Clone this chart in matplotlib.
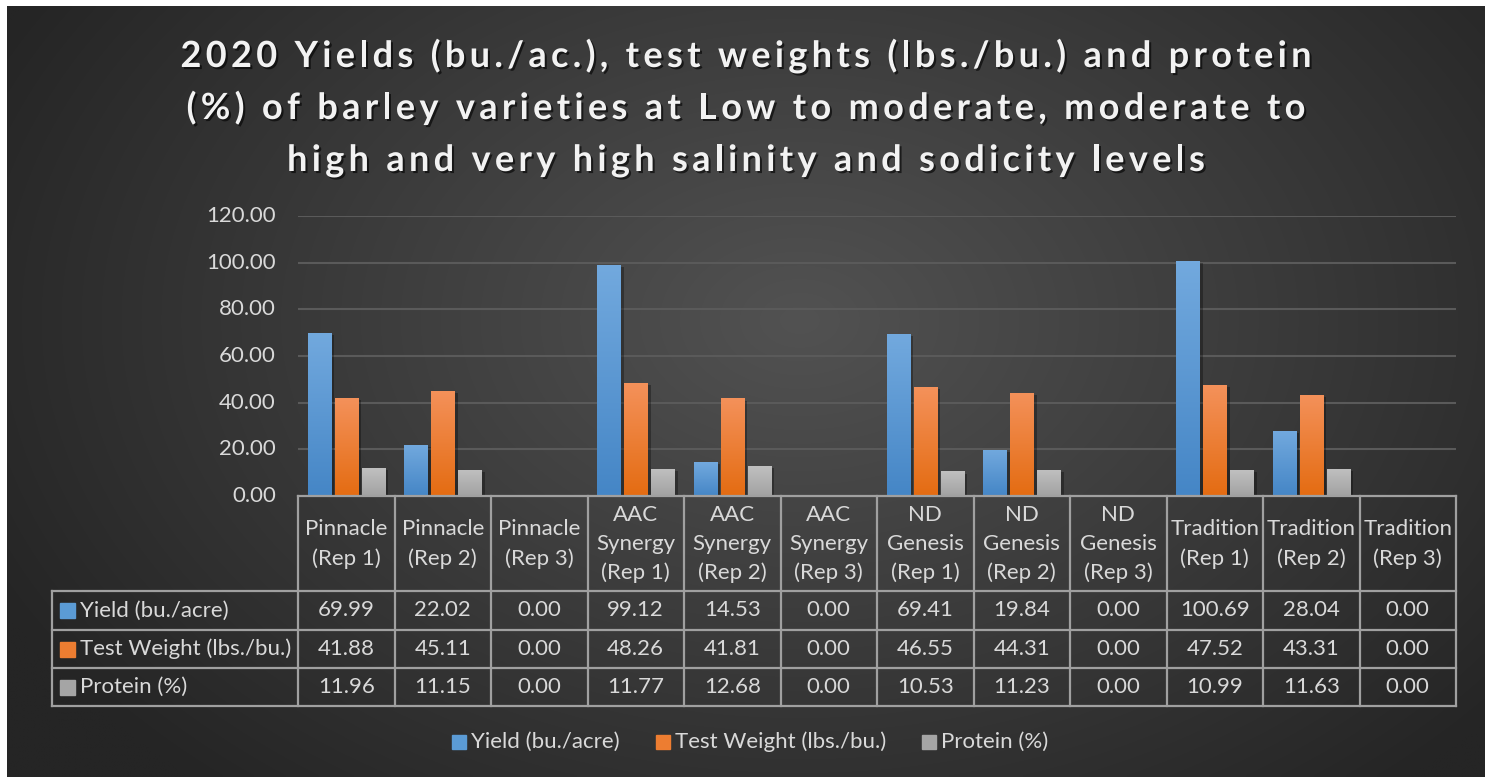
import numpy as np
import matplotlib
matplotlib.use('Agg')
import matplotlib.pyplot as plt
import matplotlib.patheffects as pe
from matplotlib.patches import Rectangle
from matplotlib.font_manager import FontProperties, findfont, get_font

# Data
categories = ['Pinnacle\n(Rep 1)', 'Pinnacle\n(Rep 2)', 'Pinnacle\n(Rep 3)',
              'AAC\nSynergy\n(Rep 1)', 'AAC\nSynergy\n(Rep 2)', 'AAC\nSynergy\n(Rep 3)',
              'ND\nGenesis\n(Rep 1)', 'ND\nGenesis\n(Rep 2)', 'ND\nGenesis\n(Rep 3)',
              'Tradition\n(Rep 1)', 'Tradition\n(Rep 2)', 'Tradition\n(Rep 3)']
yield_bu = [69.99, 22.02, 0.00, 99.12, 14.53, 0.00, 69.41, 19.84, 0.00, 100.69, 28.04, 0.00]
test_weight = [41.88, 45.11, 0.00, 48.26, 41.81, 0.00, 46.55, 44.31, 0.00, 47.52, 43.31, 0.00]
protein = [11.96, 11.15, 0.00, 11.77, 12.68, 0.00, 10.53, 11.23, 0.00, 10.99, 11.63, 0.00]
series_names = ['Yield (bu./acre)', 'Test Weight (lbs./bu.)', 'Protein (%)']
y_ticks = [0, 20, 40, 60, 80, 100, 120]
title_lines = ['2020 Yields (bu./ac.), test weights (lbs./bu.) and protein',
               '(%) of barley varieties at Low to moderate, moderate to',
               'high and very high salinity and sodicity levels']

# (top colour, bottom colour) for each series gradient
grad_colors = [('#72A9DE', '#4586C6'), ('#F4915A', '#E46C12'), ('#C0C0C0', '#A2A2A2')]
flat_colors = ['#5B9BD5', '#ED7D31', '#A5A5A5']

W, H = 1492, 777
FONT = 'Lato'
TXT = '#D9D9D9'
LINE = '#A0A0A0'
FS = 16

fig = plt.figure(figsize=(W / 100, H / 100), dpi=100, facecolor='white')

# background: radial gradient
ax_bg = fig.add_axes([0, 0, 1, 1], zorder=-5)
ax_bg.set_xlim(0, W)
ax_bg.set_ylim(H, 0)
ax_bg.axis('off')
gx, gy = np.meshgrid(np.linspace(7, 1485, 400), np.linspace(6, 777, 220))
r = np.sqrt(((gx - 800) / 900) ** 2 + ((gy - 320) / 620) ** 2)
r = np.clip(r, 0, 1)
c0 = np.array([0x52, 0x52, 0x52]) / 255
c1 = np.array([0x25, 0x25, 0x25]) / 255
img = c0[None, None, :] * (1 - r[..., None]) + c1[None, None, :] * r[..., None]
ax_bg.imshow(img, extent=(7, 1485, 777, 6), aspect='auto', interpolation='bilinear')

# plot area geometry (pixels)
px_left, px_right = 298, 1456
px_top, px_zero = 216, 496
col_w = (px_right - px_left) / len(categories)

ax = fig.add_axes([px_left / W, 1 - px_zero / H, (px_right - px_left) / W, (px_zero - px_top) / H])
ax.set_facecolor('none')
for s in ax.spines.values():
    s.set_visible(False)
ax.set_xticks([])
ax.set_yticks(y_ticks[1:])
ax.yaxis.grid(True, color='#5A5A5A', linewidth=1.5)
ax.set_axisbelow(True)
ax.tick_params(axis='y', length=0, labelleft=False)

x = np.arange(len(categories))
bw, off = 0.24, 0.28
grad = np.linspace(0, 1, 64)[:, None]
for k, vals in enumerate([yield_bu, test_weight, protein]):
    bars = ax.bar(x + (k - 1) * off, vals, bw, color=flat_colors[k], zorder=3,
                  path_effects=[pe.SimplePatchShadow(offset=(2.5, -1.5), alpha=0.3, shadow_rgbFace='black'),
                                pe.Normal()])
    top = np.array(matplotlib.colors.to_rgb(grad_colors[k][0]))
    bot = np.array(matplotlib.colors.to_rgb(grad_colors[k][1]))
    gimg = top[None, None, :] * (1 - grad[..., None]) + bot[None, None, :] * grad[..., None]
    for b in bars:
        if b.get_height() <= 0:
            continue
        im = ax.imshow(gimg, extent=(b.get_x(), b.get_x() + b.get_width(), 0, b.get_height()),
                       aspect='auto', zorder=4, interpolation='bilinear')
        im.set_clip_path(b)
ax.set_xlim(-0.5, len(categories) - 0.5)
ax.set_ylim(0, 120)

# overlay in pixel coords for labels, table, legend, title
ov = fig.add_axes([0, 0, 1, 1], zorder=5)
ov.set_facecolor('none')
ov.set_xlim(0, W)
ov.set_ylim(H, 0)
ov.axis('off')

# y tick labels
for t in y_ticks:
    yp = px_zero - (px_zero - px_top) * t / 120
    ov.text(276, yp, f'{t:.2f}', ha='right', va='center', fontsize=FS, color=TXT, family=FONT)

# data table
tbl_left = 52
row_edges = [591, 630, 668, 706]
lw = 1.6
ov.plot([px_left, px_right], [px_zero, px_zero], color=LINE, lw=lw, solid_capstyle='projecting')
for yv in row_edges:
    ov.plot([tbl_left, px_right], [yv, yv], color=LINE, lw=lw, solid_capstyle='projecting')
ov.plot([tbl_left, tbl_left], [row_edges[0], row_edges[-1]], color=LINE, lw=lw)
for i in range(len(categories) + 1):
    xv = px_left + i * col_w
    ov.plot([xv, xv], [px_zero, row_edges[-1]], color=LINE, lw=lw)

for i, cat in enumerate(categories):
    cx = px_left + (i + 0.5) * col_w
    ov.text(cx, 544, cat, ha='center', va='center',
            fontsize=FS, color=TXT, family=FONT, linespacing=1.53)
    for j, vals in enumerate([yield_bu, test_weight, protein]):
        cy = (row_edges[j] + row_edges[j + 1]) / 2
        ov.text(cx, cy, f'{vals[i]:.2f}', ha='center', va='center', fontsize=FS, color=TXT, family=FONT)

for j, name in enumerate(series_names):
    cy = (row_edges[j] + row_edges[j + 1]) / 2
    ov.add_patch(Rectangle((60, cy - 7.5), 15, 15, color=flat_colors[j]))
    ov.text(80, cy, name, ha='left', va='center', fontsize=FS, color=TXT, family=FONT)

# legend
leg_x = [452, 656, 922]
for j, name in enumerate(series_names):
    ov.add_patch(Rectangle((leg_x[j], 742 - 7), 14, 14, color=flat_colors[j]))
    ov.text(leg_x[j] + 19, 742, name, ha='left', va='center', fontsize=FS, color=TXT, family=FONT)

# title with letter spacing (drawn char by char)
tprop = FontProperties(family=FONT, weight='bold', size=26)
tfont = get_font(findfont(tprop))
tfont.set_size(26, 100)
spacing = 4.3
shadow = [pe.withSimplePatchShadow(offset=(1.5, -1.5), shadow_rgbFace='black', alpha=0.6)]
for li, line in enumerate(title_lines):
    adv = [tfont.load_char(ord(c)).linearHoriAdvance / 65536 for c in line]
    total = sum(adv) + spacing * (len(line) - 1)
    xc = 746 - total / 2
    base = 67 + li * 52
    for c, a in zip(line, adv):
        if c != ' ':
            ov.text(xc, base, c, ha='left', va='baseline', fontproperties=tprop,
                    color='#F2F2F2', path_effects=shadow)
        xc += a + spacing

fig.savefig('out.png', dpi=100, facecolor='white')
